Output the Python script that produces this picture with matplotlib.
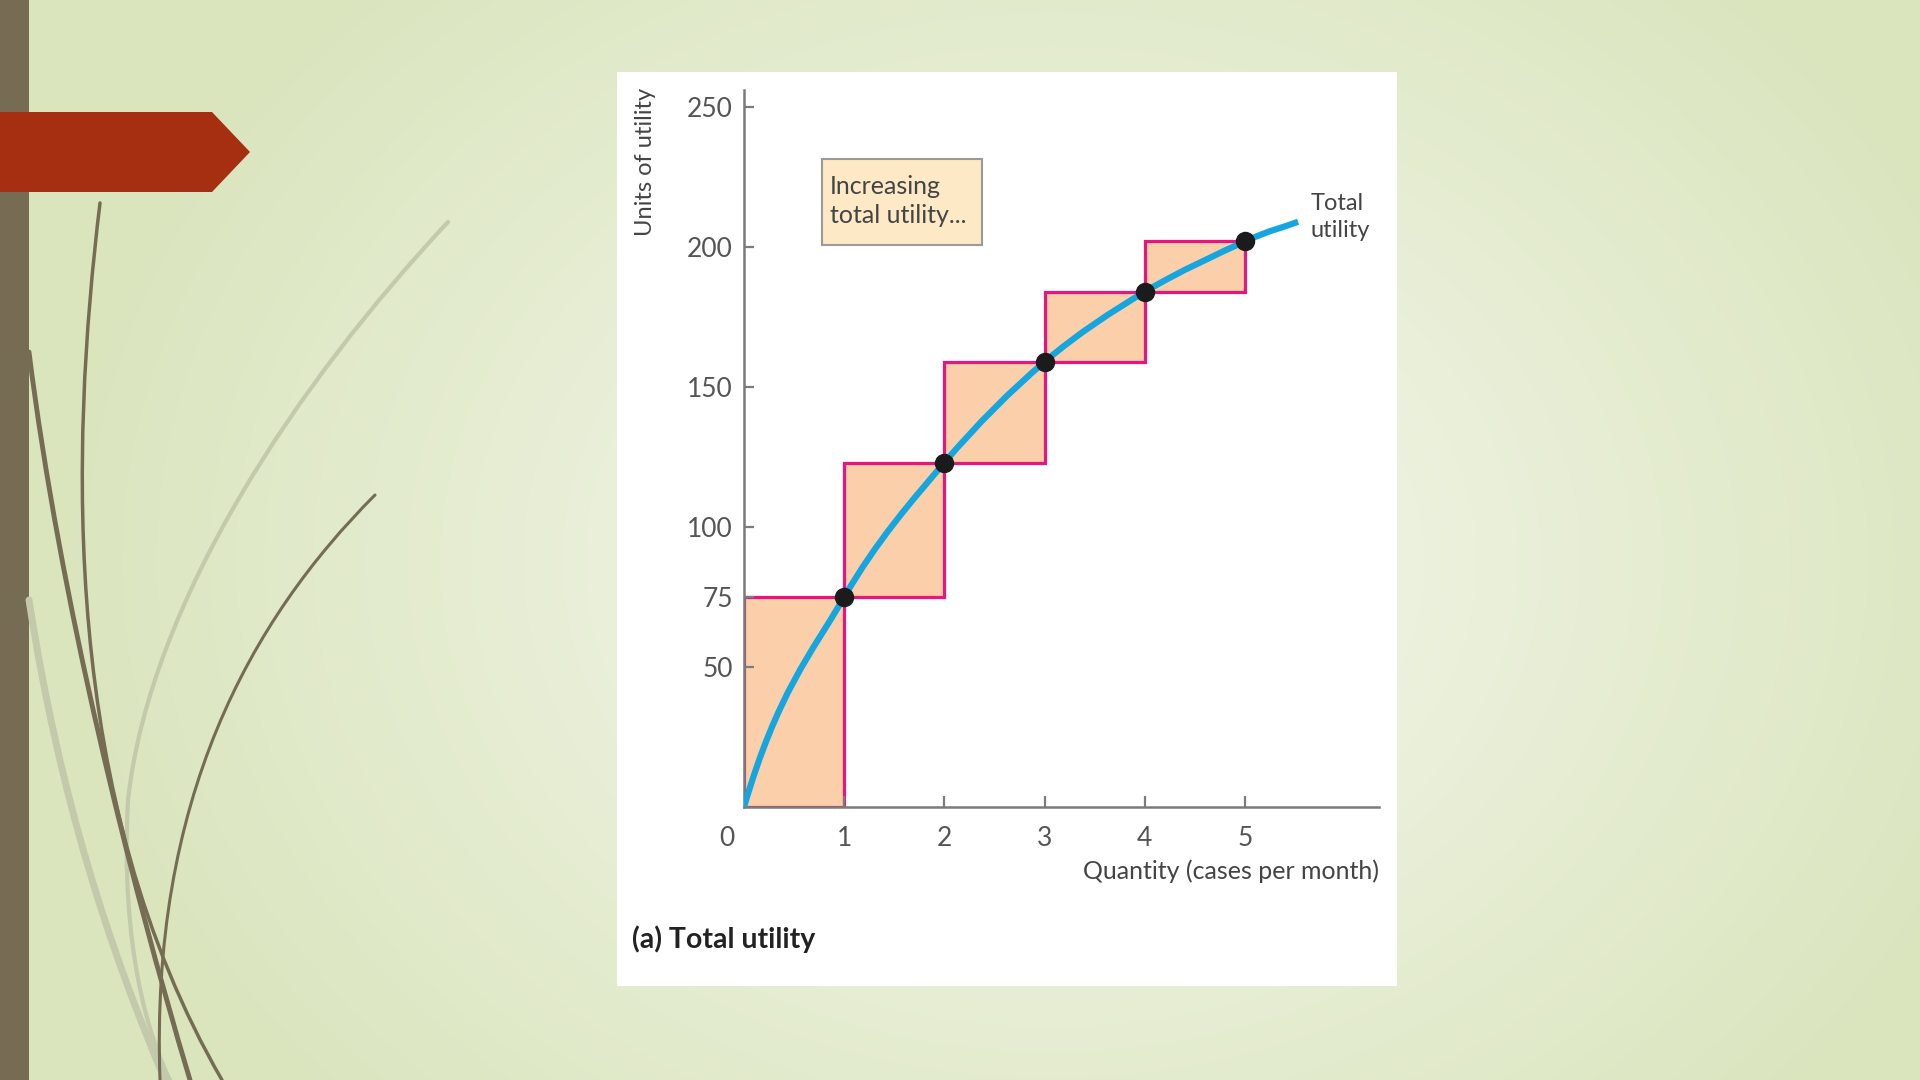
import numpy as np
import matplotlib.pyplot as plt
from matplotlib.path import Path
from matplotlib.patches import PathPatch, Rectangle, Polygon

# data
quantity = [0, 1, 2, 3, 4, 5]
total_utility = [0, 75, 123, 159, 184, 202]
curve_end = (5.53, 209)            # where the blue curve stops past 5 cases
y_ticks = [50, 75, 100, 150, 200, 250]
x_ticks = [1, 2, 3, 4, 5]

FONT = ["Lato", "DejaVu Sans"]
plt.rcParams["font.family"] = FONT

W, H = 1920, 1080
fig = plt.figure(figsize=(W / 100, H / 100), dpi=100)

# ---- slide background (pixel coords, y down) ----
bg = fig.add_axes([0, 0, 1, 1], zorder=-10)
bg.set_xlim(0, W)
bg.set_ylim(H, 0)
bg.axis("off")

yy, xx = np.mgrid[0:H:4, 0:W:4]
r = np.sqrt(((xx - 1050) / 1000.0) ** 2 + ((yy - 560) / 800.0) ** 2)
r = np.clip(r, 0, 1)
c0 = np.array([0.965, 0.973, 0.937])
c1 = np.array([0.855, 0.898, 0.745])
img = c0[None, None, :] * (1 - r[..., None]) + c1[None, None, :] * r[..., None]
bg.imshow(img, extent=[0, W, H, 0], aspect="auto", interpolation="bilinear")

bg.add_patch(Rectangle((0, 0), 29, H, color="#766c53", lw=0))
bg.add_patch(Polygon([(0, 112), (212, 112), (250, 152), (212, 192), (0, 192)],
                     closed=True, color="#a52f10", lw=0))


def bez(pts, color, lw, alpha=1.0):
    codes = [Path.MOVETO] + [Path.CURVE4] * (len(pts) - 1)
    bg.add_patch(PathPatch(Path(pts, codes), fill=False, edgecolor=color,
                           lw=lw, alpha=alpha, capstyle="round"))


dark = "#766c53"
light = "#c3c9ab"
bez([(29, 600), (60, 800), (110, 950), (165, 1080)], light, 5)
bez([(448, 222), (300, 380), (150, 600), (128, 800), (120, 950), (150, 1040), (170, 1080)], light, 3)
bez([(29, 352), (60, 600), (130, 880), (190, 1080)], dark, 3.5)
bez([(100, 203), (70, 450), (60, 800), (222, 1080)], dark, 2.5)
bez([(375, 495), (250, 620), (150, 800), (160, 1080)], dark, 2.2)

# white figure panel
bg.add_patch(Rectangle((617, 72), 780, 914, color="white", lw=0))

# ---- main chart axes ----
x0_px, x1_px = 744, 1379
y0_px, ytop_px = 807, 90
px_per_x = 100.2
px_per_y = 2.8
ax = fig.add_axes([x0_px / W, (H - y0_px) / H, (x1_px - x0_px) / W, (y0_px - ytop_px) / H])
ax.set_xlim(0, (x1_px - x0_px) / px_per_x)
ax.set_ylim(0, (y0_px - ytop_px) / px_per_y)
ax.patch.set_alpha(0)

for s in ["top", "right"]:
    ax.spines[s].set_visible(False)
for s in ["left", "bottom"]:
    ax.spines[s].set_color("#7b7b7b")
    ax.spines[s].set_linewidth(1.8)
    ax.spines[s].set_zorder(3)

# marginal utility boxes
for i in range(1, len(quantity)):
    ax.add_patch(Rectangle((quantity[i - 1], total_utility[i - 1]), 1,
                           total_utility[i] - total_utility[i - 1],
                           facecolor="#fbcfa9", edgecolor="#e8157f", lw=2.3, zorder=1))

# smooth total utility curve through the points (Catmull-Rom as Bezier)
px = list(quantity) + [curve_end[0]]
py = list(total_utility) + [curve_end[1]]
P = np.column_stack([px, py]).astype(float)
pre = np.array([P[0][0] - 1.0, P[0][1] - 170.0])
post = P[-1] + (P[-1] - P[-2])
ext = np.vstack([pre, P, post])
verts = [tuple(P[0])]
for i in range(len(P) - 1):
    p_m, p_a, p_b, p_p = ext[i], ext[i + 1], ext[i + 2], ext[i + 3]
    verts += [tuple(p_a + (p_b - p_m) / 6), tuple(p_b - (p_p - p_a) / 6), tuple(p_b)]
codes = [Path.MOVETO] + [Path.CURVE4] * (len(verts) - 1)
ax.add_patch(PathPatch(Path(verts, codes), fill=False, edgecolor="#15a6e0",
                       lw=4.5, zorder=4, capstyle="butt"))

ax.plot(quantity[1:], total_utility[1:], "o", color="#1b1b1b", ms=13, zorder=5)

ax.set_yticks(y_ticks)
ax.set_xticks(x_ticks)
ax.tick_params(axis="y", direction="in", length=7, width=1.6, color="#7b7b7b",
               labelsize=19, labelcolor="#555555", pad=8)
ax.tick_params(axis="x", direction="in", length=8, width=1.6, color="#7b7b7b",
               labelsize=19, labelcolor="#555555", pad=14)
ax.text(-0.17, -0.027, "0", transform=ax.get_xaxis_transform(), ha="center",
        va="top", fontsize=19, color="#555555")

# ---- text ----
txt = "#444444"
bg.text(645, 162, "Units of utility", rotation=90, ha="center", va="center",
        fontsize=17, color=txt)
bg.text(1379, 871, "Quantity (cases per month)", ha="right", va="center",
        fontsize=18, color=txt)
bg.text(632, 939, "(a) Total utility", ha="left", va="center", fontsize=20.5,
        fontweight="bold", color="#222222")
bg.text(1311, 217, "Total\nutility", ha="left", va="center", fontsize=17,
        color=txt, linespacing=1.3)

bg.add_patch(Rectangle((822, 159), 160, 86, facecolor="#fde9c6", edgecolor="#9a9a9a",
                       lw=1.5, zorder=5))
bg.text(830, 201, "Increasing\ntotal utility...", ha="left", va="center",
        fontsize=18, color=txt, linespacing=1.3, zorder=6)

fig.savefig("out.png", dpi=100)
